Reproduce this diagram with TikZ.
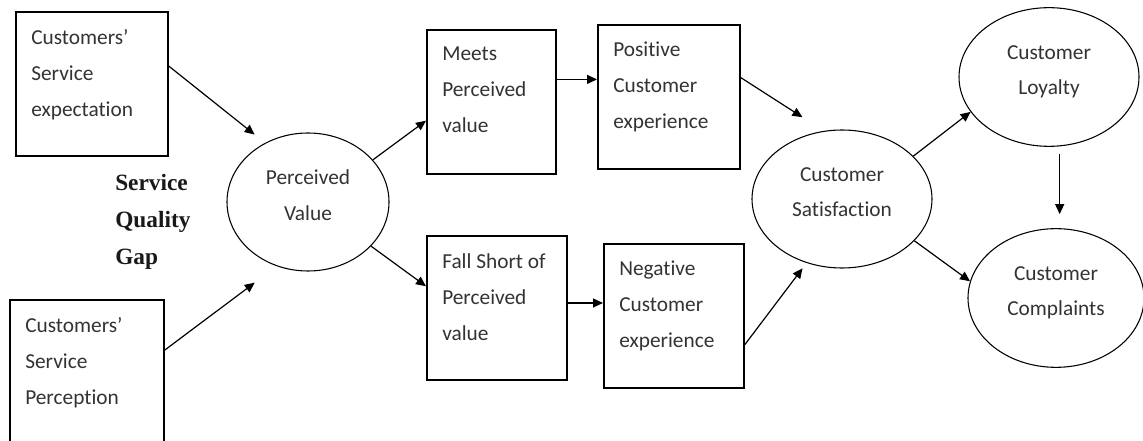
\documentclass[tikz,border=0pt]{standalone}
\usepackage{fontspec}
\setmainfont{Carlito}[Ligatures={TeX,NoCommon}]
\newfontfamily\gapfont{Liberation Serif}
\usetikzlibrary{positioning, arrows.meta, shapes}

\tikzset{
	box/.style={draw, line width=1.4pt, anchor=north west, inner sep=0pt},
	boxtext/.style={anchor=north west, align=left, inner sep=0pt, xshift=12pt, yshift=-13.5pt,
		text=black!80, font=\fontsize{16}{27}\selectfont, execute at begin node={\rule{0pt}{12pt}}},
	oval/.style={draw, ellipse, line width=0.8pt, align=center, inner sep=0pt, text=black!80,
		font=\fontsize{16}{26.5}\selectfont, execute at end node={\rule[-10.5pt]{0pt}{10.5pt}}},
	arr/.style={-{Triangle[length=7.5pt, width=6.75pt]}, line width=0.9pt},
}

\begin{document}
\begin{tikzpicture}[x=0.75pt, y=-0.75pt]
		\useasboundingbox (0,0) rectangle (1143,441);
		
		\node[box, minimum width=114pt, minimum height=108pt] (exp) at (15,11)
			[label={[boxtext]north west:Customers'\\Service\\expectation}] {};
		\node[box, minimum width=115.5pt, minimum height=120pt] (perc) at (9,299)
			[label={[boxtext]north west:Customers'\\Service\\Perception}] {};
		\node[anchor=north west, inner sep=0pt, align=left, text=black!90,
			font=\gapfont\bfseries\fontsize{17.5}{27.75}\selectfont] (gap) at (115,173)
			{\rule{0pt}{13pt}Service\\Quality\\Gap};
		
		\node[oval, minimum width=121.5pt, minimum height=103.5pt] (pv) at (308,202) {Perceived\\Value};
		
		\node[box, minimum width=96.75pt, minimum height=108pt] (meets) at (426,29)
			[label={[boxtext]north west:Meets\\Perceived\\value}] {};
		\node[box, minimum width=105pt, minimum height=108pt] (fall) at (426,235)
			[label={[boxtext]north west:Fall Short of\\Perceived\\value}] {};
		\node[box, minimum width=106.5pt, minimum height=108pt] (pos) at (597,24)
			[label={[boxtext]north west:Positive\\Customer\\experience}] {};
		\node[box, minimum width=105pt, minimum height=108pt] (neg) at (603,243)
			[label={[boxtext]north west:Negative\\Customer\\experience}] {};
		
		\node[oval, minimum width=135pt, minimum height=103.5pt] (sat) at (842,199) {Customer\\Satisfaction};
		\node[oval, minimum width=135pt, minimum height=104pt] (loy) at (1049,77) {Customer\\Loyalty};
		\node[oval, minimum width=132pt, minimum height=104pt] (comp) at (1056,298) {Customer\\Complaints};
		
		% connectors
		\draw[arr, shorten >=10pt] (exp.13) -- (pv.126);
		\draw[arr, shorten >=20.6pt] (perc.21) -- (pv.244);
		\draw[arr] (pv.33) -- (meets.196);
		\draw[arr] (pv.325) -- (fall.163);
		\draw[arr] (meets.19) -- (meets.19 -| pos.west);
		\draw[arr] (fall.4) -- (fall.4 -| neg.west);
		\draw[arr, shorten >=19pt] (pos.15) -- (sat.105);
		\draw[arr, shorten >=5pt] (neg.338) -- (sat.241);
		\draw[arr] (sat.31) -- (loy.204);
		\draw[arr] (sat.330) -- (comp.169);
		\draw[arr, shorten <=5.5pt, shorten >=10.5pt] ([xshift=8pt]loy.south) -- ([xshift=8pt]loy.south |- comp.north);
	\end{tikzpicture}
\end{document}
